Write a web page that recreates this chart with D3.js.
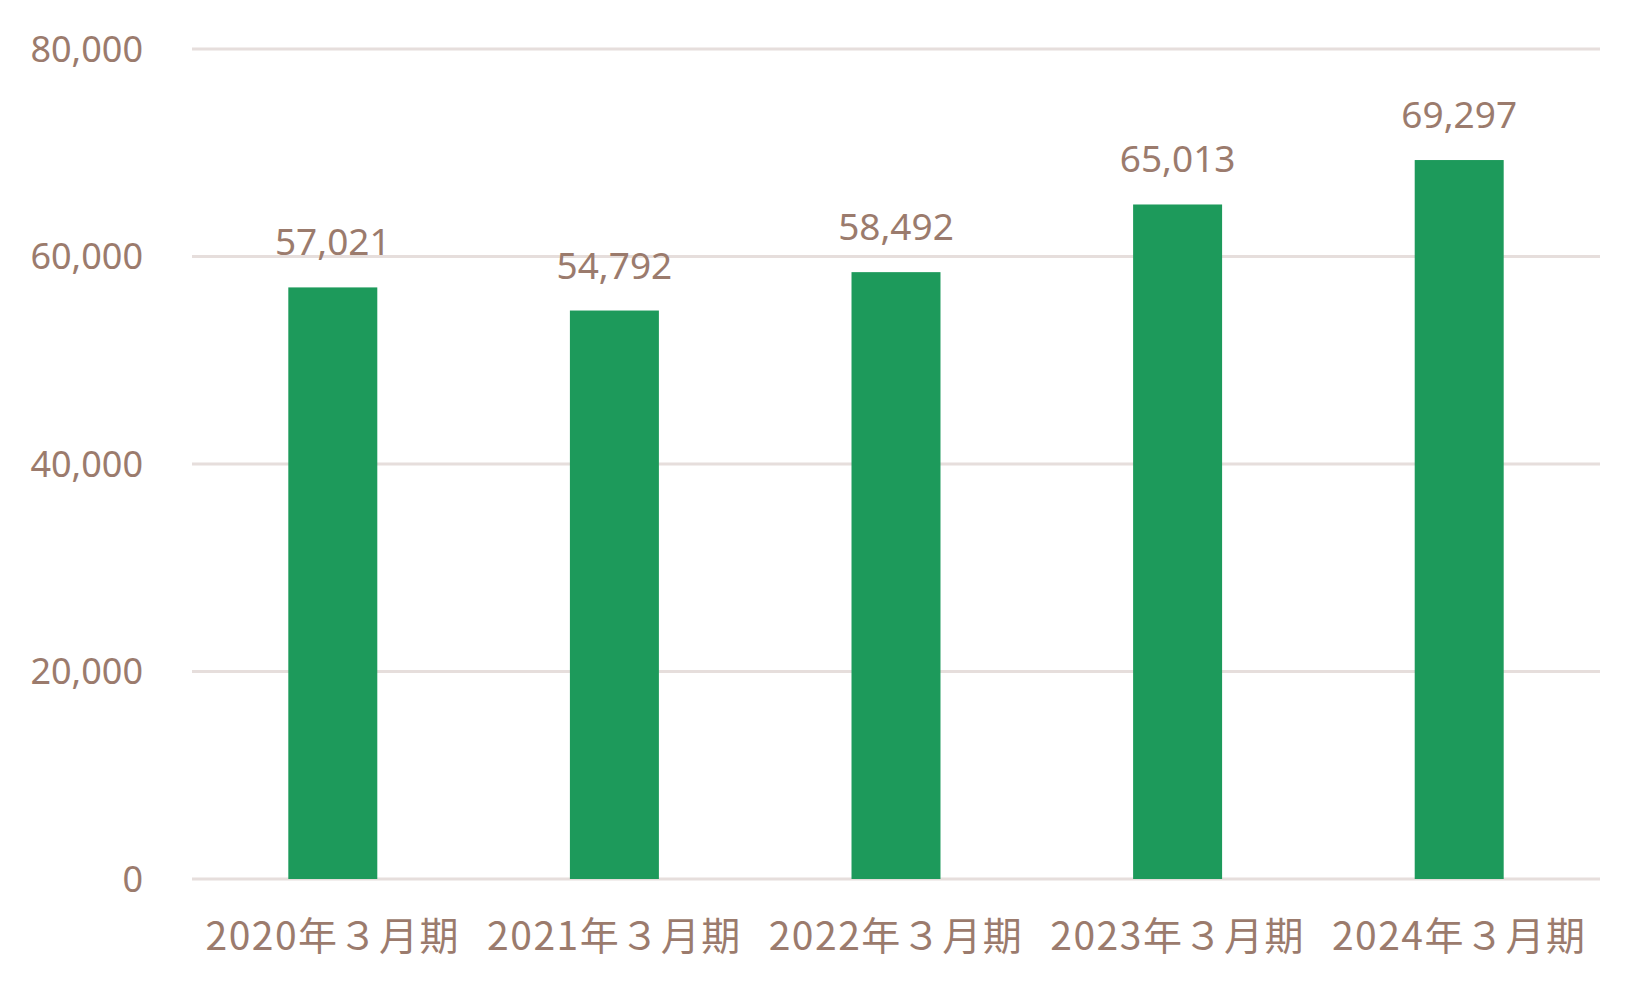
<!DOCTYPE html>
<html>
<head>
<meta charset="utf-8">
<script src="https://cdn.jsdelivr.net/npm/d3@7"></script>
<style>
  body { margin: 0; background: #fff; }
  svg { display: block; }
</style>
</head>
<body>
<svg></svg>
<script>
var categories = ["2020年３月期", "2021年３月期", "2022年３月期", "2023年３月期", "2024年３月期"];
var values = [57021, 54792, 58492, 65013, 69297];
var yTicks = [0, 20000, 40000, 60000, 80000];

var width = 1650;
var height = 989;
var textColor = "#9b7b6d";

var svg = d3.select("svg")
            .attr("width", width)
            .attr("height", height);

var xScale = d3.scaleBand()
               .domain(categories)
               .range([192, 1600])
               .paddingInner(0.684)
               .paddingOuter(0.342);

var yScale = d3.scaleLinear()
               .domain([0, 80000])
               .range([879, 49]);

var fmt = d3.format(",");

// gridlines
svg.selectAll("line.grid")
  .data(yTicks)
  .enter()
  .append("line")
  .attr("class", "grid")
  .attr("x1", 192)
  .attr("x2", 1600)
  .attr("y1", function(d) { return yScale(d); })
  .attr("y2", function(d) { return yScale(d); })
  .attr("stroke", "#e6dedc")
  .attr("stroke-width", 3);

// y labels
svg.selectAll("text.ytick")
  .data(yTicks)
  .enter()
  .append("text")
  .attr("class", "ytick")
  .attr("x", 143)
  .attr("y", function(d) { return yScale(d); })
  .attr("dy", "0.36em")
  .attr("text-anchor", "end")
  .style("font-family", "'Noto Sans', sans-serif")
  .style("font-size", "36px")
  .style("fill", textColor)
  .text(function(d) { return fmt(d); });

// bars
svg.selectAll("rect")
  .data(values)
  .enter()
  .append("rect")
  .attr("x", function(d, i) { return xScale(categories[i]); })
  .attr("y", function(d) { return yScale(d); })
  .attr("width", xScale.bandwidth())
  .attr("height", function(d) { return yScale(0) - yScale(d); })
  .attr("fill", "#1d9a5b");

// value labels
svg.selectAll("text.val")
  .data(values)
  .enter()
  .append("text")
  .attr("class", "val")
  .attr("x", function(d, i) { return xScale(categories[i]) + xScale.bandwidth() / 2; })
  .attr("y", function(d) { return yScale(d) - 32; })
  .attr("text-anchor", "middle")
  .style("font-family", "'Noto Sans', sans-serif")
  .style("font-size", "37px")
  .style("fill", textColor)
  .text(function(d) { return fmt(d); });

// category labels
svg.selectAll("text.cat")
  .data(categories)
  .enter()
  .append("text")
  .attr("class", "cat")
  .attr("x", function(d) { return xScale(d) + xScale.bandwidth() / 2; })
  .attr("y", 950)
  .attr("text-anchor", "middle")
  .style("font-family", "'Noto Sans CJK JP', sans-serif")
  .style("font-size", "39px")
  .style("letter-spacing", "1.5px")
  .style("fill", textColor)
  .text(function(d) { return d; });
</script>
</body>
</html>
